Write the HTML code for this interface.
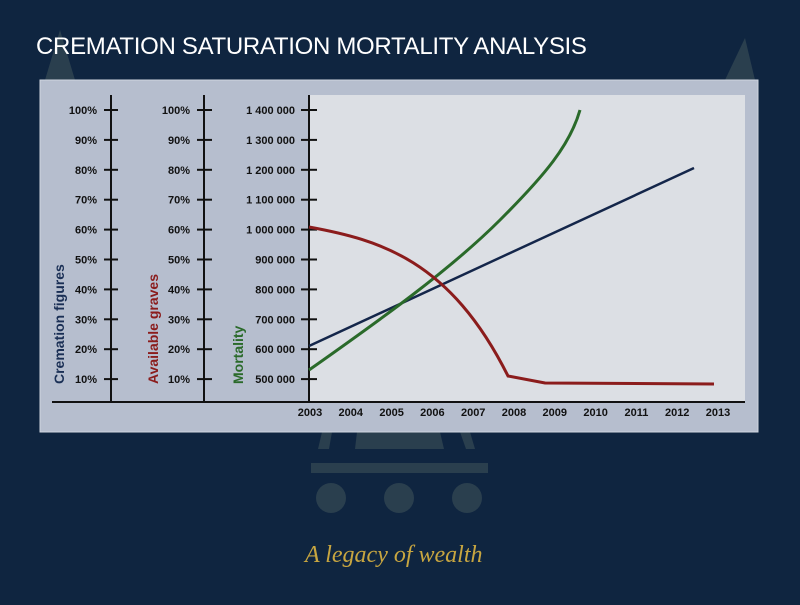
<!DOCTYPE html>
<html><head><style>
body{margin:0;width:800px;height:600px;background:#0f2540;overflow:hidden;font-family:"Liberation Sans",sans-serif}
</style></head><body>
<svg width="800" height="600" xmlns="http://www.w3.org/2000/svg" font-family="Liberation Sans, sans-serif">
<rect width="800" height="600" fill="#0f2540"/>
<g fill="#2a3f4e">
<polygon points="45,80 60,30 75,80"/><polygon points="725,80 745,38 755,80"/>
<polygon points="322,432 332,432 329,449 318,449"/><polygon points="357,432 440,432 444,449 355,449"/><polygon points="460,432 470,432 475,449 466,449"/>
<rect x="311" y="463" width="177" height="10"/>
<circle cx="331" cy="498" r="15"/><circle cx="399" cy="498" r="15"/><circle cx="467" cy="498" r="15"/>
</g>
<text x="36" y="54" fill="#fff" font-size="24" letter-spacing="-0.3">CREMATION SATURATION MORTALITY ANALYSIS</text>
<rect x="40" y="80" width="718" height="352" fill="#b6bece" stroke="#d0d6e0"/>
<rect x="309" y="95" width="436" height="307" fill="#dcdfe4"/>
<g stroke="#111" stroke-width="2">
<line x1="52" y1="402" x2="745" y2="402"/>
<line x1="111" y1="95" x2="111" y2="402"/>
<line x1="204" y1="95" x2="204" y2="402"/>
<line x1="309" y1="95" x2="309" y2="402"/>
</g>
<g id="ticks" stroke="#111" stroke-width="2"></g>
<g font-size="11" font-weight="bold" fill="#111" text-anchor="end" id="labs"></g>
<g font-size="11" font-weight="bold" fill="#111" text-anchor="middle" id="xl"></g>
<text transform="translate(64,384) rotate(-90)" font-size="14" font-weight="bold" fill="#1a2f55">Cremation figures</text>
<text transform="translate(158,384) rotate(-90)" font-size="14" font-weight="bold" fill="#8b1c1c">Available graves</text>
<text transform="translate(243,384) rotate(-90)" font-size="14" font-weight="bold" fill="#2a6a2a">Mortality</text>
<path d="M309,346 L694,168" stroke="#14264a" stroke-width="2.5" fill="none"/>
<path d="M309,370 C380,320 450,270 500,220 C545,175 570,145 580,110" stroke="#2a6a2a" stroke-width="3" fill="none"/>
<path d="M309,227 C380,240 450,260 508,376 L545,383 L714,384" stroke="#8b1c1c" stroke-width="3" fill="none"/>
<text x="305" y="562" fill="#c8a640" font-family="Liberation Serif, serif" font-style="italic" font-size="24">A legacy of wealth</text>
<script>
var t=document.getElementById('ticks'),l=document.getElementById('labs'),x=document.getElementById('xl'),ns='http://www.w3.org/2000/svg';
var mort=['1 400 000','1 300 000','1 200 000','1 100 000','1 000 000','900 000','800 000','700 000','600 000','500 000'];
for(var i=0;i<10;i++){var y=110+i*29.9;
[[104,118],[197,212],[301,317]].forEach(function(a){var e=document.createElementNS(ns,'line');e.setAttribute('x1',a[0]);e.setAttribute('x2',a[1]);e.setAttribute('y1',y);e.setAttribute('y2',y);t.appendChild(e);});
[[97,(100-i*10)+'%'],[190,(100-i*10)+'%'],[295,mort[i]]].forEach(function(a){var e=document.createElementNS(ns,'text');e.setAttribute('x',a[0]);e.setAttribute('y',y+4);e.textContent=a[1];l.appendChild(e);});}
for(var j=0;j<11;j++){var e=document.createElementNS(ns,'text');e.setAttribute('x',310+j*40.8);e.setAttribute('y',416);e.textContent=2003+j;x.appendChild(e);}
</script>
</svg>
</body></html>
